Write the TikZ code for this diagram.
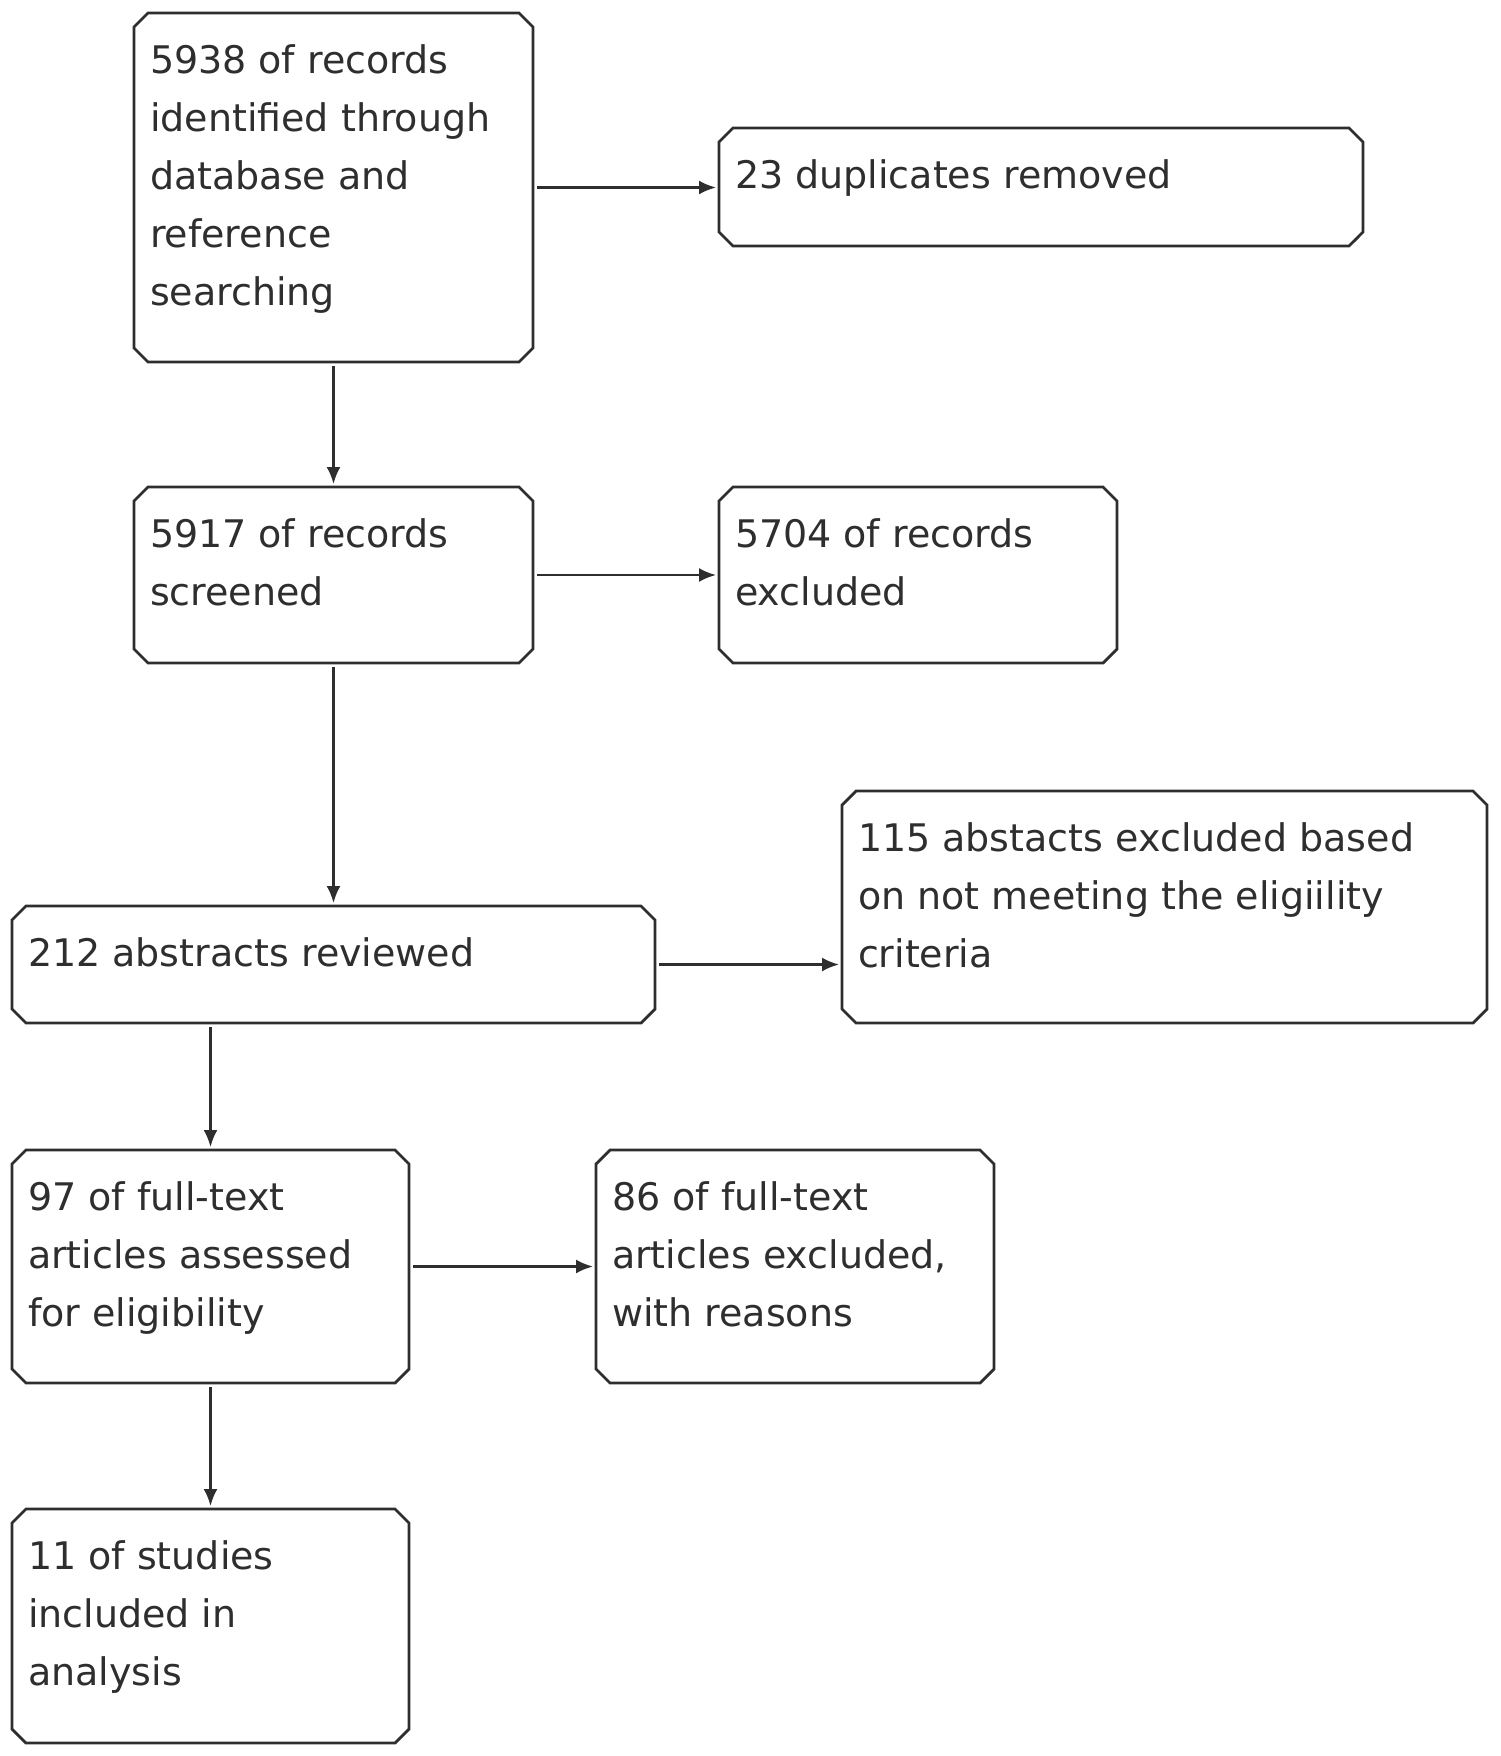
\documentclass[tikz,border=0pt]{standalone}
\usepackage{fontspec}
\setmainfont{DejaVu Sans}
\usetikzlibrary{shapes.misc,arrows.meta}
\definecolor{ink}{HTML}{2E2E2E}
\newcommand{\boxtext}[3]{\parbox[t][#2][t]{#1}{\raggedright\rule{0pt}{44pt}#3}}
\begin{document}
\begin{tikzpicture}[x=1pt,y=-1pt,
  flowbox/.style={draw=ink, line width=2.8pt, chamfered rectangle,
    chamfered rectangle xsep=7pt, chamfered rectangle ysep=7pt,
    inner xsep=9pt, inner ysep=9pt, outer sep=0pt, anchor=center,
    text=ink, font=\fontsize{38}{58}\selectfont},
  flow/.style={draw=ink, line width=2.4pt, -{Latex[length=17pt,width=14pt]},
    shorten <=4pt, shorten >=3pt}]
\useasboundingbox (0,0) rectangle (1500,1756);
\node[flowbox] (b1) at (333.5,187.5) {\boxtext{367pt}{317pt}{\mbox{5938 of records}\\\mbox{identified through}\\\mbox{database and}\\\mbox{reference}\\\mbox{searching}}};
\node[flowbox] (b2) at (1041,187) {\boxtext{612pt}{86pt}{\mbox{23 duplicates removed}}};
\node[flowbox] (b3) at (333.5,575) {\boxtext{367pt}{144pt}{\mbox{5917 of records}\\\mbox{screened}}};
\node[flowbox] (b4) at (918,575) {\boxtext{366pt}{144pt}{\mbox{5704 of records}\\\mbox{excluded}}};
\node[flowbox] (b5) at (333.5,964.5) {\boxtext{611pt}{85pt}{\mbox{212 abstracts reviewed}}};
\node[flowbox] (b6) at (1164.5,907) {\boxtext{613pt}{200pt}{\mbox{115 abstacts excluded based}\\\mbox{on not meeting the eligiility}\\\mbox{criteria}}};
\node[flowbox] (b7) at (210.5,1266.5) {\boxtext{365pt}{201pt}{\mbox{97 of full-text}\\\mbox{articles assessed}\\\mbox{for eligibility}}};
\node[flowbox] (b8) at (795,1266.5) {\boxtext{366pt}{201pt}{\mbox{86 of full-text}\\\mbox{articles excluded,}\\\mbox{with reasons}}};
\node[flowbox] (b9) at (210.5,1626) {\boxtext{365pt}{202pt}{\mbox{11 of studies}\\\mbox{included in}\\\mbox{analysis}}};
\draw[flow] (b1.east) -- (b1.east -| b2.west);
\draw[flow] (b1.south) -- (b3.north);
\draw[flow] (b3.east) -- (b4.west);
\draw[flow] (b3.south) -- (b5.north);
\draw[flow] (b5.east) -- (b5.east -| b6.west);
\draw[flow] (b5.south -| b7.north) -- (b7.north);
\draw[flow] (b7.east) -- (b8.west);
\draw[flow] (b7.south) -- (b9.north);
\end{tikzpicture}
\end{document}
